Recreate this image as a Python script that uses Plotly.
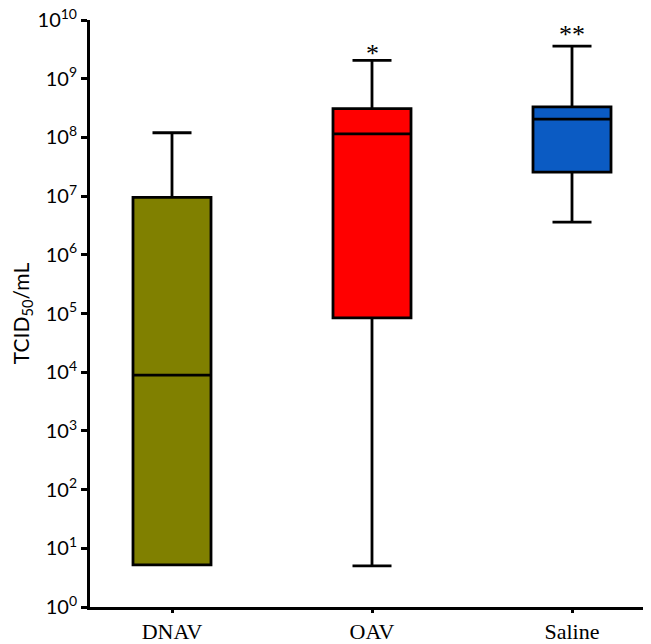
import plotly.graph_objects as go

categories = ["DNAV", "OAV", "Saline"]
lower = [5.2, 5.0, 3.6e6]
q1 = [5.2, 8.4e4, 2.57e7]
median = [8.9e3, 1.15e8, 2.05e8]
q3 = [9.5e6, 3.1e8, 3.3e8]
upper = [1.2e8, 2.05e9, 3.6e9]
colors = ["#808000", "#FF0000", "#0B5BC3"]
stars = ["", "*", "**"]
star_pos = [None, 9.43, 9.76]

fig = go.Figure()
for i, c in enumerate(categories):
    fig.add_trace(go.Box(
        x=[i], q1=[q1[i]], median=[median[i]], q3=[q3[i]],
        lowerfence=[lower[i]], upperfence=[upper[i]],
        fillcolor=colors[i], line=dict(color="black", width=2.8),
        width=0.39, whiskerwidth=0.5, boxpoints=False, hoverinfo="skip",
        showlegend=False,
    ))

for i, s in enumerate(stars):
    if s:
        fig.add_annotation(x=i, y=star_pos[i], text=s, showarrow=False,
                           font=dict(family="Liberation Serif", size=26, color="black"),
                           xanchor="center", yanchor="middle")

exps = list(range(0, 11))
fig.update_yaxes(
    type="log", range=[0, 10],
    tickvals=[10 ** e for e in exps],
    ticktext=[f"10<sup>{e}</sup>" for e in exps],
    showline=True, linecolor="black", linewidth=3,
    ticks="outside", ticklen=6, tickwidth=3, tickcolor="black",
    showgrid=False, zeroline=False, automargin=False,
    ticklabeloverflow="allow",
    tickfont=dict(family="Lato", size=20, color="black"),
    title=dict(text="TCID<sub>50</sub>/mL", font=dict(family="Lato", size=21, color="black"), standoff=8),
)
fig.update_xaxes(
    range=[-0.41, 2.395],
    tickvals=[0, 1, 2], ticktext=categories,
    showline=True, linecolor="black", linewidth=3,
    ticks="outside", ticklen=3, tickwidth=3, tickcolor="black",
    showgrid=False, zeroline=False, automargin=False,
    ticklabeloverflow="allow",
    tickfont=dict(family="Liberation Serif", size=22, color="black"),
    ticklabelstandoff=0,
)
fig.update_layout(
    width=643, height=636,
    margin=dict(l=82, r=0, t=12, b=37),
    plot_bgcolor="white", paper_bgcolor="white",
)
fig.write_html("out.html")
